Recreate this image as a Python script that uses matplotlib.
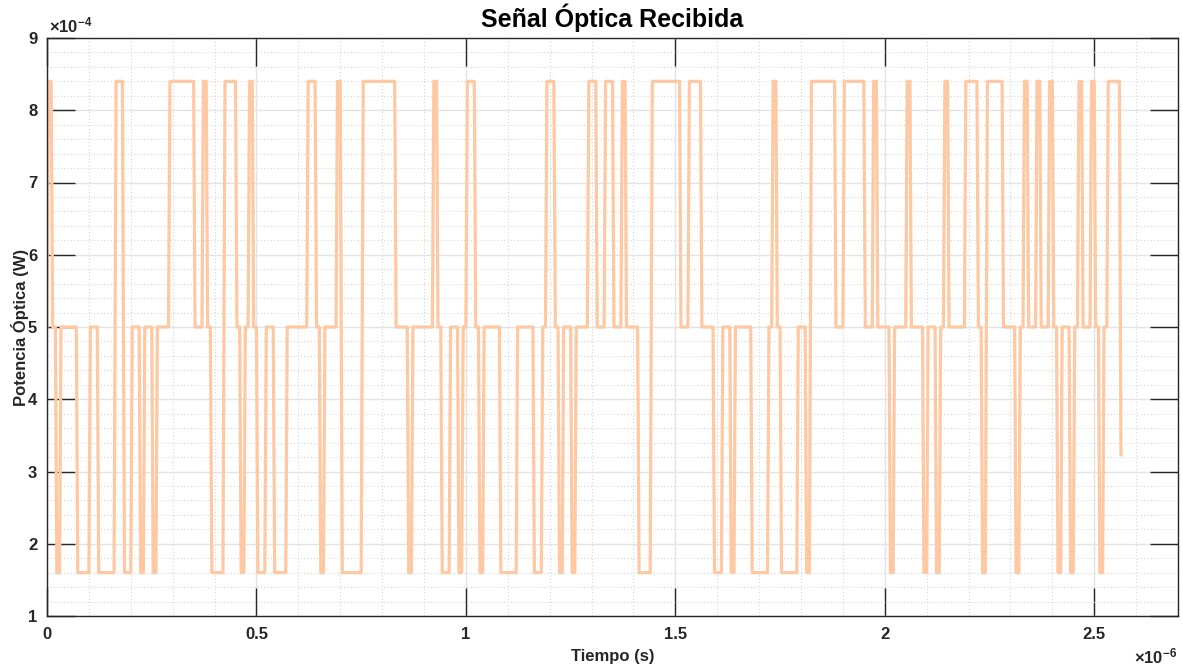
import numpy as np
import matplotlib
matplotlib.use("Agg")
import matplotlib.pyplot as plt
from matplotlib.ticker import MultipleLocator, FuncFormatter

plt.rcParams['font.family'] = ['Liberation Sans', 'DejaVu Sans']
plt.rcParams['mathtext.fontset'] = 'custom'
plt.rcParams['mathtext.rm'] = 'Liberation Sans'
plt.rcParams['mathtext.bf'] = 'Liberation Sans:bold'

# Received optical power: three-level symbol stream, 10 ns per symbol
symbol_period = 10e-9            # s
power_levels = {'L': 1.6e-4, 'M': 5.0e-4, 'H': 8.4e-4}   # W
initial_level = 'M'
symbol_rows = [
    "HMLMMMMLLLMMLLLL",
    "HHLLMMLMMLMMMHHH",
    "HHHMMHMLLLHHHMLM",
    "HMLLMMLLLMMMMMHH",
    "MLMMMHLLLLLHHHHH",
    "HHHMMMLMMMMMHMLL",
    "MMLMHHMLMMMMLLLL",
    "MMMMLLMHHMLMMLMM",
    "MHHMMHHMMHMMMLLL",
    "HHHHHHHMMHHHMMML",
    "LMMLMMMMLLLLMHML",
    "LLLMMLHHHHHHMMHH",
    "HHHMMHMMMLMMMHMM",
    "MLMMLMHMMMMHHHML",
    "HHHHMMMLMHMMHMMH",
    "MLMMLMHMMHMLMHHH",
    "L",
]
rise_time_step = 3.5e-9          # transition time for one level step
rise_time_double = 5.0e-9        # transition time for a full low<->high swing
t_end = 2.5638e-6                # end of the recorded trace

symbols = "".join(symbol_rows)
values = [power_levels[s] for s in symbols]

# Piecewise-linear waveform with finite transition times at symbol boundaries
times = [0.0]
power = [power_levels[initial_level]]
prev = power_levels[initial_level]
for k, v in enumerate(values):
    t0 = k * symbol_period
    if v != prev:
        swing = abs(v - prev)
        rt = rise_time_double if swing > 5e-4 else rise_time_step
        times += [t0, t0 + rt]
        power += [prev, v]
    prev = v
times.append(len(values) * symbol_period)
power.append(prev)
times = np.array(times)
power = np.array(power)
mask = times <= t_end
t_plot = np.append(times[mask], t_end)
p_plot = np.append(power[mask], np.interp(t_end, times, power))

fig = plt.figure(figsize=(11.83, 6.68), dpi=100)
ax = fig.add_axes([47 / 1183, 52 / 668, 1131 / 1183, 578 / 668])

ax.plot(t_plot, p_plot, color='#FDC8A2', linewidth=2.3, solid_joinstyle='round')

ax.set_xlim(0, 2.7e-6)
ax.set_ylim(1e-4, 9e-4)
ax.xaxis.set_major_locator(MultipleLocator(0.5e-6))
ax.xaxis.set_minor_locator(MultipleLocator(0.1e-6))
ax.yaxis.set_major_locator(MultipleLocator(1e-4))
ax.yaxis.set_minor_locator(MultipleLocator(0.2e-4))
ax.xaxis.set_major_formatter(FuncFormatter(lambda v, p: f"{v / 1e-6:g}"))
ax.yaxis.set_major_formatter(FuncFormatter(lambda v, p: f"{v / 1e-4:g}"))

ax.grid(True, which='major', color='#E3E3E3', linewidth=1.0, linestyle='-')
ax.grid(True, which='minor', color='#D6D6D6', linewidth=0.8, linestyle=(0, (1, 2)))
ax.set_axisbelow(True)

ax.tick_params(which='major', direction='in', length=20, width=1.0, color='#262626',
               top=True, right=True, labelsize=12, labelcolor='#262626')
ax.tick_params(axis='x', which='major', pad=8)
ax.tick_params(axis='y', which='major', pad=7)
ax.tick_params(which='minor', length=0, top=True, right=True)
for lbl in ax.get_xticklabels() + ax.get_yticklabels():
    lbl.set_fontweight('bold')
for sp in ax.spines.values():
    sp.set_color('#262626')
    sp.set_linewidth(1.0)

ax.set_title('Señal Óptica Recibida', fontsize=18, fontweight='bold', pad=8, color='#000000')
ax.set_xlabel('Tiempo (s)', fontsize=12, fontweight='bold', labelpad=5, color='#262626')
ax.set_ylabel('Potencia Óptica (W)', fontsize=12, fontweight='bold', labelpad=-1, color='#262626')

ax.text(0.002, 1.004, r'$\mathbf{\times10^{-4}}$', transform=ax.transAxes,
        ha='left', va='bottom', fontsize=12, color='#262626')
ax.text(0.999, -0.052, r'$\mathbf{\times10^{-6}}$', transform=ax.transAxes,
        ha='right', va='top', fontsize=12, color='#262626')

fig.savefig('out.png', dpi=100)
